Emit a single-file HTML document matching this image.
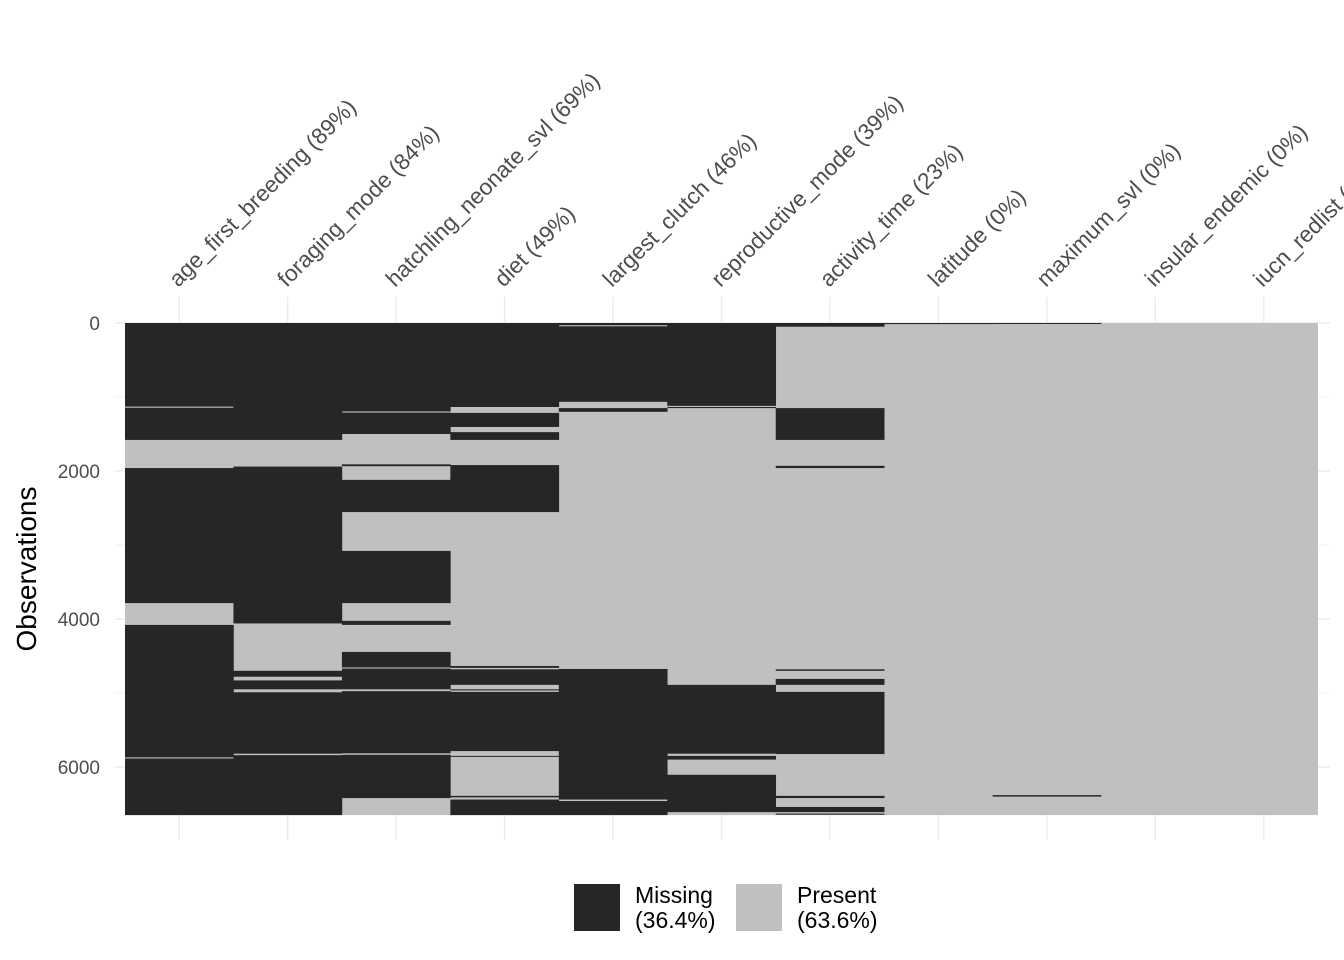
<!DOCTYPE html>
<html><head><meta charset="utf-8"><style>
html,body{margin:0;padding:0;background:#fff;}
svg{display:block;font-family:"Liberation Sans",Arial,sans-serif;}
</style></head><body>
<svg id="chart" width="1344" height="960" viewBox="0 0 1344 960"></svg>
<script>
const variables=["age_first_breeding","foraging_mode","hatchling_neonate_svl","diet","largest_clutch","reproductive_mode","activity_time","latitude","maximum_svl","insular_endemic","iucn_redlist"];
const pctMissing=[89,84,69,49,46,39,23,0,0,0,0];
const nObs=6650;
const yTicks=[0,2000,4000,6000];
const missingRuns=[
 [[0,1130],[1145,1580],[1960,3785],[4080,5870],[5885,6650]],
 [[0,1580],[1940,4060],[4700,4780],[4830,4950],[4990,5820],[5840,6650]],
 [[0,1195],[1210,1500],[1910,1935],[2120,2555],[3080,3785],[4025,4080],[4445,4655],[4670,4950],[4975,5815],[5835,6420]],
 [[0,1135],[1215,1405],[1475,1580],[1920,2555],[4635,4660],[4680,4890],[4950,4965],[4985,5785],[5850,5860],[6390,6410],[6440,6650]],
 [[0,30],[45,1065],[1150,1200],[4675,6440],[6460,6650]],
 [[0,1120],[1135,1150],[4890,5820],[5850,5900],[6105,6610]],
 [[0,50],[1150,1580],[1930,1960],[4680,4700],[4810,4890],[4985,5825],[6390,6420],[6540,6610],[6630,6645]],
 [[0,15]],
 [[0,10],[6380,6400]],
 [],
 []
];
const legendLabels=[["Missing","(36.4%)"],["Present","(63.6%)"]];

const NS="http://www.w3.org/2000/svg";
const svg=document.getElementById("chart");
const L=125,R=1318,T=323,pxPerObs=0.0740;
const colW=(R-L)/variables.length;
const y=v=>T+v*pxPerObs;
const x=i=>L+i*colW;
const B=y(nObs);
function el(tag,attrs,parent){const e=document.createElementNS(NS,tag);for(const k in attrs)e.setAttribute(k,attrs[k]);(parent||svg).appendChild(e);return e;}

const grid=el("g",{});


for(let v=0;v<=7000;v+=1000){if(y(v)>B+5)break;el("line",{x1:115,x2:1330,y1:y(v),y2:y(v),stroke:"#ebebeb","stroke-width":v%2000===0?1.4:0.7},grid);}
variables.forEach((_,i)=>{const cx=x(i)+colW/2;el("line",{x1:cx,x2:cx,y1:297,y2:840,stroke:"#ebebeb","stroke-width":1.4},grid);});

const bg=el("rect",{x:L,y:T,width:R-L,height:B-T,fill:"#c0c0c0"});


missingRuns.forEach((runs,i)=>{
 const g=el("g",{});
 
 
 runs.forEach(r=>{
  const rc=el("rect",{x:x(i),y:y(r[0]),width:colW+0.3,height:Math.max(1,y(r[1])-y(r[0])),fill:"#262626"},g);
  
  
 });
});

yTicks.forEach(v=>{
 const t=el("text",{x:100,y:y(v)+7,"text-anchor":"end","font-size":19,fill:"#4d4d4d"});
 t.textContent=v;
 
 
});
const yt=el("text",{transform:"translate(36,569) rotate(-90)","text-anchor":"middle","font-size":28,fill:"#000"});
yt.textContent="Observations";



variables.forEach((v,i)=>{
 const cx=x(i)+colW/2;
 const t=el("text",{transform:`translate(${cx-1},288) rotate(-45)`,"font-size":22.6,fill:"#4d4d4d"});
 t.textContent=`${v} (${pctMissing[i]}%)`;
 
 
});

const lg=el("g",{});


[[574,"#262626"],[736,"#c0c0c0"]].forEach((p,i)=>{
 const k=el("rect",{x:p[0],y:884,width:46,height:47,fill:p[1]},lg);
 
 
 const t=el("text",{x:p[0]+61,y:903,"font-size":23,fill:"#000"},lg);
 
 
 const a=el("tspan",{x:p[0]+61,dy:0},t);a.textContent=legendLabels[i][0];
 const b=el("tspan",{x:p[0]+61,dy:25},t);b.textContent=legendLabels[i][1];
});
</script>
</body></html>
